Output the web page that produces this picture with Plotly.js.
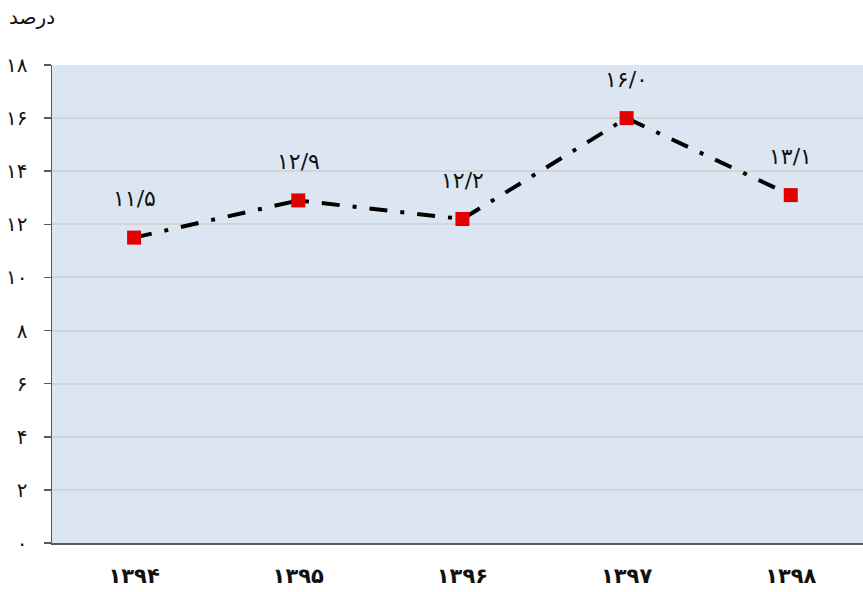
<!DOCTYPE html>
<html><head><meta charset="utf-8">
<script src="https://cdn.plot.ly/plotly-3.0.1.min.js"></script>
<style>html,body{margin:0;padding:0;background:#fff;}#chart{width:863px;height:592px;}</style>
</head><body><div id="chart"></div>
<script>
const years = ['۱۳۹۴','۱۳۹۵','۱۳۹۶','۱۳۹۷','۱۳۹۸'];
const values = [11.5, 12.9, 12.2, 16.0, 13.1];
const valueLabels = ['۱۱/۵','۱۲/۹','۱۲/۲','۱۶/۰','۱۳/۱'];
const yTickVals = [0,2,4,6,8,10,12,14,16,18];
const yTickText = ['۰','۲','۴','۶','۸','۱۰','۱۲','۱۴','۱۶','۱۸'];
const unitLabel = 'درصد';

const font = 'DejaVu Sans, Noto Sans, sans-serif';

const trace = {
  x: years, y: values, type: 'scatter', mode: 'lines+markers',
  line: {color: '#000000', width: 4, dash: '18px,13px,4px,13px'},
  marker: {symbol: 'square', size: 14, color: '#e00000', line: {width: 0}},
  hoverinfo: 'skip'
};

const annotations = years.map((yr, i) => ({
  x: yr, y: values[i], xref: 'x', yref: 'y', text: valueLabels[i],
  showarrow: false, yshift: 39, font: {family: font, size: 22, color: '#111'}
}));
annotations.push({
  xref: 'paper', yref: 'paper', x: -0.025, y: 1.1, xanchor: 'center', yanchor: 'middle',
  text: unitLabel, showarrow: false, font: {family: font, size: 20, color: '#111'}
});

const layout = {
  width: 863, height: 592,
  margin: {l: 52, r: 0, t: 65, b: 49},
  paper_bgcolor: '#ffffff', plot_bgcolor: '#dce6f2',
  showlegend: false,
  xaxis: {
    type: 'category', range: [-0.5, 4.44],
    showgrid: false, zeroline: false,
    showline: true, linecolor: '#595959', linewidth: 1.5,
    ticks: '', ticklabelstandoff: 13,
    tickfont: {family: font, size: 21, color: '#111', weight: 'bold'}
  },
  yaxis: {
    range: [0, 18], tickvals: yTickVals, ticktext: yTickText,
    showgrid: true, gridcolor: '#d4d4d4', gridwidth: 2,
    zeroline: false, showline: true, linecolor: '#595959', linewidth: 1.5,
    ticks: 'outside', ticklen: 7, tickcolor: '#595959', tickwidth: 1.5,
    ticklabelstandoff: 12,
    tickfont: {family: font, size: 20, color: '#111'}
  },
  annotations: annotations
};

Plotly.newPlot('chart', [trace], layout, {staticPlot: true, displayModeBar: false});
</script></body></html>
